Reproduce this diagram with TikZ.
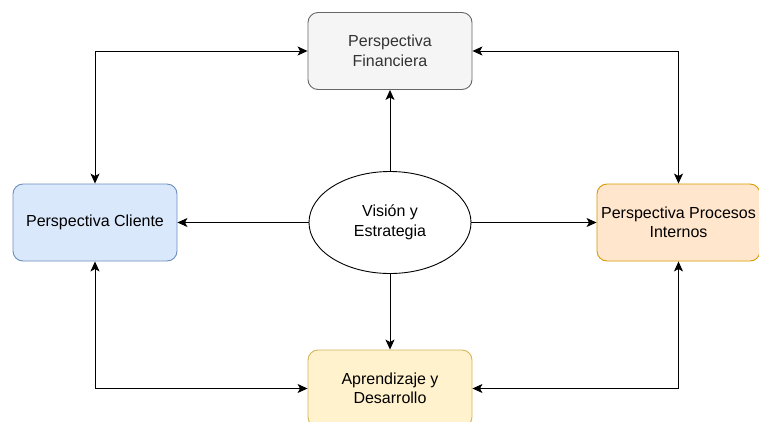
\documentclass[tikz,border=0pt]{standalone}
\usepackage{fontspec}
\setmainfont{Liberation Sans}
\usetikzlibrary{shapes.geometric,arrows.meta}
\definecolor{finfill}{HTML}{F5F5F5}
\definecolor{findraw}{HTML}{666666}
\definecolor{fintext}{HTML}{333333}
\definecolor{clifill}{HTML}{DAE8FC}
\definecolor{clidraw}{HTML}{6C8EBF}
\definecolor{profill}{HTML}{FFE6CC}
\definecolor{prodraw}{HTML}{D79B00}
\definecolor{aprfill}{HTML}{FFF2CC}
\definecolor{aprdraw}{HTML}{D6B656}
\begin{document}
\begin{tikzpicture}[x=1pt,y=-1pt,
  box/.style={draw, rounded corners=10pt, minimum width=164pt, minimum height=77pt,
    inner sep=0pt, align=center, font=\fontsize{16}{19.5}\selectfont, line width=0.9pt},
  tip/.tip={Stealth[length=10pt,width=9pt,inset=2.5pt]},
  conn/.style={line width=0.9pt, -tip},
  bi/.style={line width=0.9pt, tip-tip}]
\clip (0,0) rectangle (759,421);
\fill[white] (0,0) rectangle (759,421);
\node[box, fill=finfill, draw=findraw, text=fintext] (fin) at (390,51) {Perspectiva\\Financiera};
\node[box, fill=clifill, draw=clidraw] (cli) at (95,222.5) {Perspectiva Cliente};
\node[box, fill=profill, draw=prodraw, minimum width=163pt] (pro) at (678.5,222.5) {Perspectiva Procesos\\Internos};
\node[box, fill=aprfill, draw=aprdraw] (apr) at (390,388.5) {Aprendizaje y\\Desarrollo};
\node[ellipse, draw, line width=0.9pt, fill=white, minimum width=162pt, minimum height=102pt,
  inner sep=0pt, align=center, font=\fontsize{16}{19.5}\selectfont] (vis) at (390,222.5) {Visión y\\Estrategia};
\draw[bi] (cli.north) |- (fin.west);
\draw[bi] (fin.east) -| (pro.north);
\draw[bi] (cli.south) |- (apr.west);
\draw[bi] (pro.south) |- (apr.east);
\draw[conn] (vis.north) -- (fin.south);
\draw[conn] (vis.west) -- (cli.east);
\draw[conn] (vis.east) -- (pro.west);
\draw[conn] (vis.south) -- (apr.north);
\end{tikzpicture}
\end{document}
